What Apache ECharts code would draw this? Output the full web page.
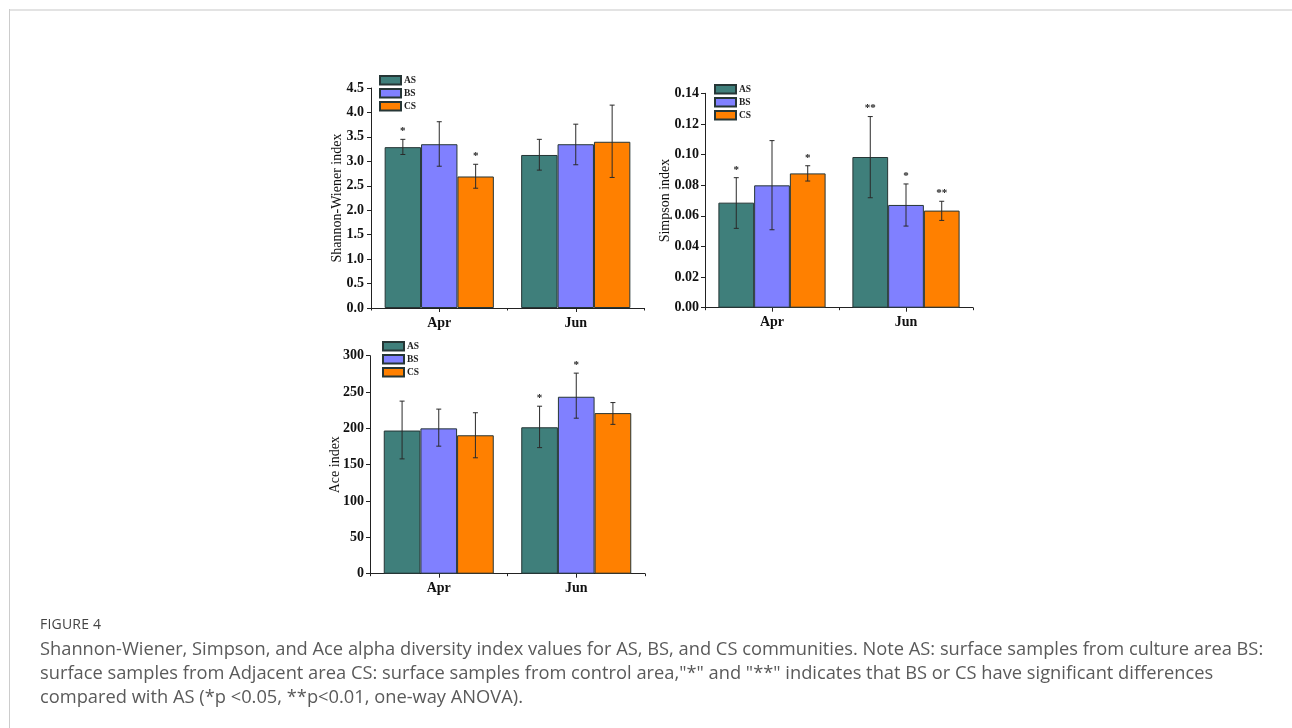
<!DOCTYPE html>
<html>
<head>
<meta charset="utf-8">
<script src="https://cdn.jsdelivr.net/npm/echarts@6/dist/echarts.min.js"></script>
<style>
  html, body { margin:0; padding:0; background:#fff; width:1292px; height:728px; overflow:hidden; }
  #frameTop { position:absolute; left:9px; top:9px; right:0; height:2px; background:#e3e3e3; }
  #frameLeft { position:absolute; left:9px; top:9px; width:1px; bottom:0; background:#cccccc; }
  #chart { position:absolute; left:0; top:0; width:1292px; height:728px; }
  #caption { position:absolute; left:40px; top:612px; font-family:"Open Sans", "DejaVu Sans", sans-serif; color:#5a5a5a; }
  #caption .fig { font-size:14px; line-height:24px; color:#444; letter-spacing:0.2px; }
  #caption .ln { font-size:18.3px; line-height:24px; white-space:nowrap; letter-spacing:0; }
</style>
</head>
<body>
<div id="frameTop"></div>
<div id="frameLeft"></div>
<div id="chart"></div>
<div id="caption">
  <div class="fig">FIGURE 4</div>
  <div class="ln">Shannon-Wiener, Simpson, and Ace alpha diversity index values for AS, BS, and CS communities. Note AS: surface samples from culture area BS:</div>
  <div class="ln">surface samples from Adjacent area CS: surface samples from control area,"*" and "**" indicates that BS or CS have significant differences</div>
  <div class="ln">compared with AS (*p &lt;0.05, **p&lt;0.01, one-way ANOVA).</div>
</div>
<script>
// ---------------- DATA ----------------
const categories = ['Apr', 'Jun'];
const groups = ['AS', 'BS', 'CS'];

// Shannon-Wiener index
const shannonAS = [3.29, 3.13];
const shannonBS = [3.35, 3.35];
const shannonCS = [2.69, 3.40];
const shannonErrAS = [[3.14, 3.45], [2.82, 3.45]];
const shannonErrBS = [[2.90, 3.81], [2.93, 3.76]];
const shannonErrCS = [[2.45, 2.94], [2.67, 4.15]];
const shannonSigAS = ['*', ''];
const shannonSigBS = ['', ''];
const shannonSigCS = ['*', ''];
const shannonTicks = [0, 4.5, 0.5];

// Simpson index
const simpsonAS = [0.0686, 0.0984];
const simpsonBS = [0.0799, 0.0671];
const simpsonCS = [0.0877, 0.0634];
const simpsonErrAS = [[0.0518, 0.0849], [0.0718, 0.1248]];
const simpsonErrBS = [[0.0509, 0.1091], [0.0533, 0.0808]];
const simpsonErrCS = [[0.0827, 0.0927], [0.0570, 0.0695]];
const simpsonSigAS = ['*', '**'];
const simpsonSigBS = ['', '*'];
const simpsonSigCS = ['*', '**'];
const simpsonTicks = [0, 0.14, 0.02];

// Ace index
const aceAS = [197, 201.5];
const aceBS = [200, 243.5];
const aceCS = [190.5, 221];
const aceErrAS = [[158, 237.5], [173.5, 230.5]];
const aceErrBS = [[175.5, 226.5], [214, 276]];
const aceErrCS = [[159.5, 221.5], [205.5, 235.5]];
const aceSigAS = ['', '*'];
const aceSigBS = ['', '*'];
const aceSigCS = ['', ''];
const aceTicks = [0, 300, 50];

// ---------------- STYLE ----------------
const colors = { AS: '#3f7f7b', BS: '#8080ff', CS: '#ff8000' };
const SERIF = '"Liberation Serif", "Times New Roman", serif';
const AXIS_COLOR = '#222';

const panels = [
  { name: 'Shannon-Wiener index', means: [shannonAS, shannonBS, shannonCS], errs: [shannonErrAS, shannonErrBS, shannonErrCS],
    sigs: [shannonSigAS, shannonSigBS, shannonSigCS], ticks: shannonTicks, dec: 1, labelMargin: 7,
    grid: { left: 371, top: 88, width: 273, height: 220 }, nameGap: 27, legend: { left: 379, top: 75 } },
  { name: 'Simpson index', means: [simpsonAS, simpsonBS, simpsonCS], errs: [simpsonErrAS, simpsonErrBS, simpsonErrCS],
    sigs: [simpsonSigAS, simpsonSigBS, simpsonSigCS], ticks: simpsonTicks, dec: 2, labelMargin: 6,
    grid: { left: 705, top: 93.3, width: 268, height: 214.4 }, nameGap: 33, legend: { left: 714, top: 84 } },
  { name: 'Ace index', means: [aceAS, aceBS, aceCS], errs: [aceErrAS, aceErrBS, aceErrCS],
    sigs: [aceSigAS, aceSigBS, aceSigCS], ticks: aceTicks, dec: 0, labelMargin: 6,
    grid: { left: 370, top: 355.7, width: 275, height: 218 }, nameGap: 28, legend: { left: 382, top: 341 } }
];

function makeErr(gi, sig) {
  return function (params, api) {
    const j = api.value(0);
    const band = api.size([1, 0])[0];
    const bw = band * 0.8 / 3;
    const cx = api.coord([j, 0])[0] + (gi - 1) * bw;
    const yLo = api.coord([j, api.value(1)])[1];
    const yHi = api.coord([j, api.value(2)])[1];
    const cap = 2.5;
    const st = { stroke: '#2a2a2a', lineWidth: 1 };
    const children = [
      { type: 'line', shape: { x1: cx, y1: yLo, x2: cx, y2: yHi }, style: st },
      { type: 'line', shape: { x1: cx - cap, y1: yHi, x2: cx + cap, y2: yHi }, style: st },
      { type: 'line', shape: { x1: cx - cap, y1: yLo, x2: cx + cap, y2: yLo }, style: st }
    ];
    const s = sig[params.dataIndex];
    if (s) {
      children.push({ type: 'text', x: cx, y: yHi - 8,
        style: { text: s, align: 'center', verticalAlign: 'middle', fontFamily: SERIF, fontWeight: 'bold', fontSize: 11, fill: '#222' } });
    }
    return { type: 'group', children: children };
  };
}

const option = { animation: false, grid: [], xAxis: [], yAxis: [], series: [], legend: [] };

panels.forEach((p, k) => {
  option.grid.push(Object.assign({ containLabel: false }, p.grid));
});
panels.forEach((p, k) => {
  option.grid.push(Object.assign({ containLabel: false }, p.grid));
});

panels.forEach((p, k) => {
  option.xAxis.push({
    gridIndex: k, type: 'category', data: categories,
    axisLine: { show: true, lineStyle: { color: AXIS_COLOR, width: 1 } },
    axisTick: { show: true, alignWithLabel: true, length: 4, lineStyle: { color: AXIS_COLOR } },
    axisLabel: { margin: 8, fontFamily: SERIF, fontWeight: 'bold', fontSize: 14, color: '#111' }
  });
  option.yAxis.push({
    gridIndex: k, type: 'value', min: p.ticks[0], max: p.ticks[1], interval: p.ticks[2],
    axisLine: { show: true, lineStyle: { color: AXIS_COLOR, width: 1 } },
    axisTick: { show: true, length: 4, lineStyle: { color: AXIS_COLOR } },
    splitLine: { show: false },
    axisLabel: { margin: p.labelMargin, fontFamily: SERIF, fontWeight: 'bold', fontSize: 14, color: '#111',
      formatter: v => Number(v).toFixed(p.dec) },
    name: p.name, nameLocation: 'middle', nameGap: p.nameGap, nameMoveOverlap: false,
    nameTextStyle: { fontFamily: SERIF, fontSize: 14, color: '#111' }
  });
});
// tick-only axes at category boundaries
panels.forEach((p, k) => {
  option.xAxis.push({
    gridIndex: k + 3, type: 'category', data: categories,
    axisLine: { show: false }, axisLabel: { show: false },
    axisTick: { show: true, alignWithLabel: false, interval: 0, length: 2.5, lineStyle: { color: AXIS_COLOR } }
  });
  option.yAxis.push({ gridIndex: k + 3, type: 'value', show: false, min: 0, max: 1 });
});

panels.forEach((p, k) => {
  groups.forEach((g, gi) => {
    option.series.push({
      type: 'bar', name: g, xAxisIndex: k, yAxisIndex: k, data: p.means[gi],
      barGap: '0%', barCategoryGap: '20%',
      itemStyle: { color: colors[g], borderColor: '#263636', borderWidth: 1 }
    });
  });
  groups.forEach((g, gi) => {
    option.series.push({
      type: 'custom', name: g + ' err', xAxisIndex: k, yAxisIndex: k, z: 10,
      encode: { x: 0, y: [1, 2] },
      data: p.errs[gi].map((e, j) => [j, e[0], e[1]]),
      renderItem: makeErr(gi, p.sigs[gi])
    });
  });
  option.legend.push({
    data: groups, orient: 'vertical', left: p.legend.left, top: p.legend.top,
    itemWidth: 21, itemHeight: 8.5, itemGap: 2.5, icon: 'rect', selectedMode: false,
    padding: 0,
    textStyle: { fontFamily: SERIF, fontWeight: 'bold', fontSize: 9.5, color: '#222', padding: [0, 0, 0, -2] }
  });
});

const chart = echarts.init(document.getElementById('chart'), null, { renderer: 'canvas' });
chart.setOption(option);
</script>
</body>
</html>
